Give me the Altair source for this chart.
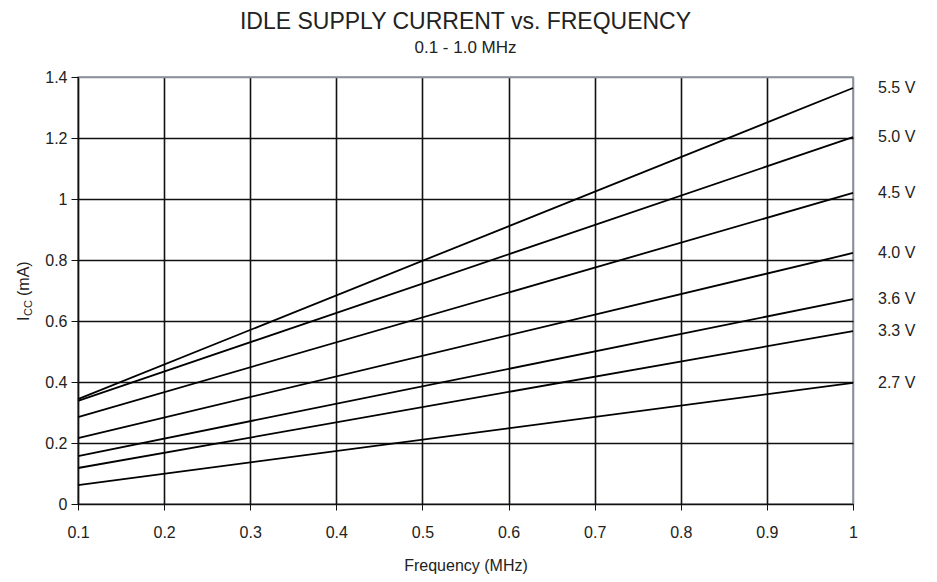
import altair as alt
import pandas as pd

voltages = ["5.5 V", "5.0 V", "4.5 V", "4.0 V", "3.6 V", "3.3 V", "2.7 V"]
freq = [0.1, 1.0]
icc_at_01 = [0.344, 0.338, 0.285, 0.216, 0.157, 0.118, 0.062]
icc_at_10 = [1.364, 1.203, 1.020, 0.823, 0.672, 0.567, 0.397]

rows = []
for v, a, b in zip(voltages, icc_at_01, icc_at_10):
    rows.append({"series": v, "f": freq[0], "icc": a})
    rows.append({"series": v, "f": freq[1], "icc": b})
df = pd.DataFrame(rows)
lab = pd.DataFrame({"series": voltages, "f": [freq[1]] * len(voltages), "icc": icc_at_10})

FONT = "Liberation Sans"
TXT = "#222"

xax = alt.Axis(
    values=[0.1, 0.2, 0.3, 0.4, 0.5, 0.6, 0.7, 0.8, 0.9, 1.0],
    format=".1~f", title="Frequency (MHz)", titlePadding=17, labelFlush=False,
    gridColor={"condition": {"test": "datum.value >= 0.99", "value": "#8a9099"}, "value": "#111"},
    gridWidth=1.6, domainColor="#111", domainWidth=1.2, tickColor="#111", tickSize=6,
    labelPadding=14,
)
yax = alt.Axis(
    values=[0, 0.2, 0.4, 0.6, 0.8, 1.0, 1.2, 1.4],
    format=".1~f", title=None, labelFlush=False,
    gridColor={"condition": {"test": "datum.value >= 1.39", "value": "#8a9099"}, "value": "#111"},
    gridWidth=1.6, domainColor="#111", domainWidth=1.2, tickColor="#111", tickSize=7,
    labelPadding=4,
)

x = alt.X("f:Q", scale=alt.Scale(domain=[0.1, 1.0], nice=False, zero=False), axis=xax)
y = alt.Y("icc:Q", scale=alt.Scale(domain=[0, 1.4], nice=False), axis=yax)

lines = alt.Chart(df).mark_line(color="#000", strokeWidth=1.8).encode(
    x=x, y=y, detail="series:N"
)
labels = alt.Chart(lab).mark_text(align="left", baseline="middle", dx=25, fontSize=16,
                                  font=FONT, color=TXT).encode(
    x="f:Q", y="icc:Q", text="series:N"
)

# y-axis title "I_CC (mA)" with a subscript, drawn as rotated text pieces
one = alt.Data(values=[{"k": 0}])
t_i = alt.Chart(one).mark_text(text="I", angle=270, align="left", baseline="alphabetic",
                               fontSize=16, font=FONT, color=TXT).encode(
    x=alt.value(-49), y=alt.value(244))
t_cc = alt.Chart(one).mark_text(text="CC", angle=270, align="left", baseline="alphabetic",
                                fontSize=11, font=FONT, color=TXT).encode(
    x=alt.value(-46), y=alt.value(239))
t_ma = alt.Chart(one).mark_text(text="(mA)", angle=270, align="left", baseline="alphabetic",
                                fontSize=16, font=FONT, color=TXT).encode(
    x=alt.value(-49), y=alt.value(219))

chart = alt.layer(lines, labels, t_i, t_cc, t_ma).properties(
    width=775, height=427,
    autosize=alt.AutoSizeParams(type="none"),
    padding={"left": 70, "top": 69, "right": 76, "bottom": 74},
    title=alt.TitleParams(
        "IDLE SUPPLY CURRENT vs. FREQUENCY",
        subtitle="0.1 - 1.0 MHz",
        fontSize=23, subtitleFontSize=17, font=FONT, subtitleFont=FONT,
        fontWeight="normal", color=TXT, subtitleColor=TXT,
        offset=13, subtitlePadding=6, anchor="middle",
    ),
).configure_view(stroke="#8a9099", strokeWidth=1.6).configure_axis(
    labelFont=FONT, titleFont=FONT, labelFontSize=16, titleFontSize=16,
    titleFontWeight="normal", labelColor=TXT, titleColor=TXT,
).configure_text(font=FONT)

chart.save("out.html", embed_options={"renderer": "svg", "actions": False})
